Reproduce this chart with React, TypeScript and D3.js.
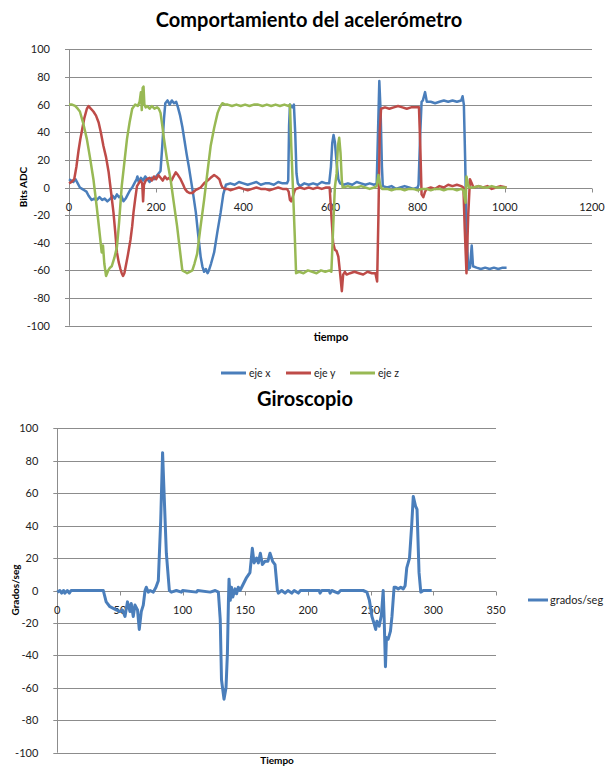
import React, { useEffect, useRef } from 'react';
import * as d3 from 'd3';

// Acelerómetro: [tiempo, bits ADC]
const ejeX: [number, number][] = [
  [0, 6], [5, 5], [10, 4], [15, 6], [20, 3], [25, 0], [30, -1], [35, -2], [40, -3], [45, -6],
  [52, -9], [58, -8], [64, -9], [70, -7], [76, -9], [82, -8], [88, -10], [95, -8], [100, -6],
  [105, -8], [110, -5], [115, -7], [120, -6], [125, -10], [130, -8], [135, -5], [140, -2],
  [145, 0], [150, 3], [155, 6], [157, 8], [160, 4], [165, 7], [170, 5], [175, 8], [180, 6],
  [185, 4], [190, 7], [195, 6], [200, 8], [205, 10], [210, 12], [214, 30], [218, 50], [221, 61],
  [226, 63], [231, 60], [236, 63], [241, 61], [246, 62], [250, 58], [255, 52], [260, 44],
  [265, 34], [270, 24], [275, 15], [280, 5], [285, -5], [291, -18], [296, -33], [302, -50],
  [306, -57], [310, -61], [314, -59], [318, -62], [321, -60], [326, -55], [333, -47], [340, -33],
  [348, -18], [354, -5], [360, 2], [370, 3], [380, 2], [390, 4], [400, 3], [410, 2], [420, 3],
  [430, 4], [440, 2], [450, 3], [460, 3], [470, 2], [480, 4], [490, 3], [500, 3], [503, 5],
  [505, 45], [507, 60], [512, 58], [516, 60], [519, 40], [522, 10], [525, 3], [530, 1], [540, 3],
  [550, 2], [560, 3], [570, 2], [580, 4], [590, 3], [597, 3], [601, 15], [604, 32], [607, 38],
  [610, 33], [614, 18], [618, 6], [622, 3], [630, 2], [640, 3], [650, 2], [660, 4], [670, 3],
  [680, 2], [690, 3], [700, 2], [706, 3], [709, 40], [712, 77], [715, 55], [718, 15], [720, 1],
  [730, 0], [740, 1], [750, -1], [760, 0], [770, 1], [780, 0], [790, -1], [800, 0], [802, 2],
  [806, 40], [809, 62], [812, 63], [817, 69], [821, 62], [830, 62], [840, 61], [850, 62],
  [860, 63], [870, 62], [880, 63], [890, 62], [900, 63], [903, 66], [906, 60], [909, 20],
  [912, -30], [916, -59], [920, -58], [924, -42], [927, -57], [935, -58], [945, -59], [955, -58],
  [965, -59], [975, -58], [985, -59], [995, -58], [1004, -58],
];

const ejeY: [number, number][] = [
  [0, 3], [6, 4], [12, 6], [17, 15], [22, 27], [26, 35], [29, 40], [35, 50], [41, 57], [45, 59],
  [50, 57], [56, 55], [62, 52], [68, 47], [73, 40], [79, 30], [85, 22], [91, 11], [96, -2],
  [102, -18], [106, -32], [110, -47], [114, -54], [118, -59], [121, -62], [124, -64], [127, -62],
  [129, -59], [135, -49], [141, -38], [145, -28], [148, -18], [152, -8], [156, 1], [160, 3],
  [164, 5], [168, 3], [170, -10], [172, 2], [176, 5], [179, 6], [185, 7], [190, 5], [195, 8],
  [200, 6], [205, 9], [210, 7], [215, 5], [220, 8], [225, 6], [230, 7], [235, 5], [240, 8],
  [245, 11], [250, 9], [256, 6], [262, 2], [266, -1], [271, -3], [277, -4], [283, -4], [290, -2],
  [296, -1], [302, 0], [310, 3], [318, 5], [325, 7], [333, 9], [338, 8], [345, 6], [349, 2],
  [352, 0], [358, -1], [364, -1], [370, -2], [380, -1], [390, 0], [400, -1], [410, -2],
  [420, -1], [430, 0], [440, -1], [450, -1], [460, -2], [470, -1], [480, 0], [490, -1],
  [500, -1], [504, -3], [507, -9], [510, -10], [514, -6], [518, -2], [521, -1], [530, 0],
  [540, -1], [550, 0], [560, -1], [570, 0], [580, -1], [590, 0], [598, 0], [602, -20],
  [606, -40], [610, -45], [614, -46], [618, -50], [622, -62], [626, -75], [629, -63], [633, -61],
  [637, -63], [645, -62], [655, -61], [665, -62], [675, -63], [685, -61], [695, -62], [703, -62],
  [707, -68], [710, -20], [713, 40], [716, 57], [725, 58], [735, 57], [745, 58], [755, 59],
  [765, 58], [775, 57], [785, 58], [795, 58], [803, 58], [806, 30], [809, -5], [813, -7],
  [817, -3], [821, -1], [830, 0], [840, -1], [850, 1], [860, 0], [870, 2], [880, 1], [890, 2],
  [900, 1], [905, 0], [908, -30], [912, -62], [916, -20], [920, 6], [924, 3], [928, 0],
  [940, 1], [950, 0], [960, 1], [970, -1], [980, 0], [990, 1], [1004, 0],
];

const ejeZ: [number, number][] = [
  [0, 60], [7, 60], [14, 59], [20, 57], [25, 55], [33, 46], [41, 35], [48, 22], [56, 6],
  [64, -15], [72, -38], [75, -47], [78, -42], [81, -55], [85, -64], [90, -60], [94, -58],
  [98, -57], [104, -51], [110, -43], [115, -25], [121, 1], [127, 18], [133, 35], [139, 47],
  [145, 57], [152, 60], [158, 59], [162, 62], [165, 69], [167, 56], [169, 72], [171, 73],
  [173, 60], [176, 58], [179, 59], [185, 57], [190, 59], [196, 57], [202, 58], [206, 57],
  [210, 54], [214, 45], [218, 35], [225, 20], [233, 6], [240, -10], [248, -28], [254, -44],
  [260, -60], [266, -61], [271, -62], [277, -61], [283, -60], [288, -55], [294, -48], [302, -28],
  [310, -9], [318, 12], [325, 30], [333, 43], [341, 54], [346, 58], [352, 61], [358, 60],
  [364, 60], [374, 59], [384, 60], [394, 59], [404, 60], [414, 59], [424, 60], [434, 60],
  [444, 59], [454, 60], [464, 59], [474, 60], [484, 59], [494, 60], [504, 59], [507, 60],
  [510, 30], [514, -2], [518, -35], [521, -62], [528, -61], [538, -62], [548, -60], [558, -61],
  [568, -62], [578, -60], [588, -61], [598, -60], [602, -61], [606, -30], [610, 0], [614, 10],
  [617, 30], [620, 36], [623, 25], [626, 5], [628, 0], [640, 1], [650, 0], [660, 0], [670, 1],
  [680, 0], [690, -1], [700, 0], [706, 1], [710, 9], [714, 2], [718, -1], [730, -1], [740, -2],
  [750, -1], [760, -1], [770, -2], [780, -1], [790, -1], [800, -2], [810, -1], [820, -1],
  [830, -2], [840, -1], [850, -1], [860, -2], [870, -1], [880, -1], [890, -2], [900, -1],
  [905, -2], [908, -8], [910, -11], [912, 8], [915, 3], [918, 0], [928, 0], [940, 1], [950, 0],
  [960, 0], [970, 1], [980, 0], [990, 0], [1004, 0],
];

// Giroscopio: [tiempo, grados/seg]
const gradosSeg: [number, number][] = [
  [0, -1], [2, 0], [3.5, -1.6], [5, 0], [6, -1.6], [8, 0], [9.6, -1.6], [11, 0], [20, 0],
  [30, 0], [36.7, 0], [39, -7], [42, -10], [44.7, -11], [47, -12], [50, -13], [52, -12],
  [54, -16], [56, -7], [58, -13], [59, -8], [60.6, -16], [62, -9], [64, -12], [65.4, -24],
  [67, -13], [68.6, -9], [70, 0], [71, 2], [72.6, -1], [74, 0], [76.6, -1], [78.7, 2], [80.6, 6],
  [82.5, 43], [84, 85], [85, 64], [87, 23], [89.4, 0], [91, -1], [95, 0], [99, -1], [100, 0],
  [111, -1], [112, 0], [122, -1], [126, 0], [128.5, -1], [130, -18], [131, -55], [133, -67],
  [134.6, -60], [135.7, -39], [136.5, -8], [137, 7], [138, -6], [139, 2], [140, -4], [141.8, 1],
  [143, -2], [144.4, 2], [145.8, 0], [148.4, 4], [151, 8], [153.7, 11], [155.6, 26], [157, 17],
  [159, 20], [160.4, 17], [162, 23], [163.6, 16], [165.7, 18], [168, 18], [169.7, 23],
  [171.8, 18], [173.7, 16], [175.6, 0], [176.4, -1.6], [179, 0], [181.7, -1.6], [184, 0],
  [187, -1.6], [189, 0], [192.3, -1.6], [194, 0], [209, 0], [209.6, -1.6], [211, 0], [217, 0],
  [217.6, -1.6], [219, 0], [224, -1.6], [226, 0], [244, 0], [247, -1], [249, -6], [251, -16],
  [252.6, -20], [254, -24], [255, -19], [256.8, -22], [258.6, -15], [260, 0], [260.8, -18],
  [261.8, -47], [262.6, -29], [264, -30], [265.8, -25], [267, -16], [268.7, 2], [270, 2],
  [272, 1], [274, 2], [276, 1], [277.5, 3], [278.8, 14], [281, 20], [282.8, 41], [284, 58],
  [285.8, 52], [287, 50], [288.6, 11], [290, -1], [292, 0], [294.7, 0], [298.7, 0],
];

const accelXTicks = [0, 200, 400, 600, 800, 1000, 1200];
const accelYTicks = [-100, -80, -60, -40, -20, 0, 20, 40, 60, 80, 100];
const gyroXTicks = [0, 50, 100, 150, 200, 250, 300, 350];
const gyroYTicks = [-100, -80, -60, -40, -20, 0, 20, 40, 60, 80, 100];

const legendAccel = ['eje x', 'eje y', 'eje z'];
const legendGyro = ['grados/seg'];

const BLUE = '#4A7EBB';
const RED = '#BE4B48';
const GREEN = '#98B954';
const GRID = '#8c8c8c';
const FONT = 'Lato, "Open Sans", sans-serif';

type Panel = {
  x: d3.ScaleLinear<number, number>;
  y: d3.ScaleLinear<number, number>;
  xTicks: number[];
  yTicks: number[];
};

// gridlines, axes and tick labels for one Excel style panel
const drawFrame = (svg: any, p: Panel) => {
  const [x0, x1] = p.x.range();
  const [yBottom, yTop] = p.y.range();
  const g = svg.append('g');

  g.selectAll('.grid')
    .data(p.yTicks)
    .enter()
    .append('line')
    .attr('x1', x0 - 4)
    .attr('x2', x1)
    .attr('y1', (d: number) => Math.round(p.y(d)) + 0.5)
    .attr('y2', (d: number) => Math.round(p.y(d)) + 0.5)
    .attr('stroke', GRID)
    .attr('stroke-width', 1);

  g.append('line')
    .attr('x1', Math.round(x0) + 0.5)
    .attr('x2', Math.round(x0) + 0.5)
    .attr('y1', yTop)
    .attr('y2', yBottom)
    .attr('stroke', GRID);

  // x axis sits on the zero line
  const y0 = Math.round(p.y(0)) + 0.5;
  g.selectAll('.xtick')
    .data(p.xTicks)
    .enter()
    .append('line')
    .attr('x1', (d: number) => Math.round(p.x(d)) + 0.5)
    .attr('x2', (d: number) => Math.round(p.x(d)) + 0.5)
    .attr('y1', y0)
    .attr('y2', y0 + 4)
    .attr('stroke', GRID);

  g.selectAll('.ylabel')
    .data(p.yTicks)
    .enter()
    .append('text')
    .attr('x', x0 - 19)
    .attr('y', (d: number) => p.y(d) + 4)
    .attr('text-anchor', 'end')
    .style('font-family', FONT)
    .style('font-size', '11px')
    .style('fill', '#222')
    .text((d: number) => d);

  g.selectAll('.xlabel')
    .data(p.xTicks)
    .enter()
    .append('text')
    .attr('x', (d: number) => p.x(d))
    .attr('y', y0 + 22)
    .attr('text-anchor', 'middle')
    .style('font-family', FONT)
    .style('font-size', '11px')
    .style('fill', '#222')
    .text((d: number) => d);
};

const App = () => {
  const svgRef = useRef<SVGSVGElement>(null);

  useEffect(() => {
    const svg = d3.select(svgRef.current);
    svg.selectAll('*').remove();

    // ---- top chart: acelerómetro ----
    const xa = d3.scaleLinear().domain([0, 1200]).range([69, 592]);
    const ya = d3.scaleLinear().domain([-100, 100]).range([325.7, 49.3]);
    drawFrame(svg, { x: xa, y: ya, xTicks: accelXTicks, yTicks: accelYTicks });

    const lineA = d3
      .line<[number, number]>()
      .x((d) => xa(d[0]))
      .y((d) => ya(d[1]));

    const accelSeries = [
      { data: ejeX, color: BLUE },
      { data: ejeY, color: RED },
      { data: ejeZ, color: GREEN },
    ];
    accelSeries.forEach((s) => {
      svg.append('path')
        .attr('d', lineA(s.data))
        .attr('fill', 'none')
        .attr('stroke', s.color)
        .attr('stroke-width', 2.5)
        .attr('stroke-linejoin', 'round');
    });

    svg.append('text')
      .attr('x', 309)
      .attr('y', 27)
      .attr('text-anchor', 'middle')
      .style('font-family', FONT)
      .style('font-weight', 'bold')
      .style('font-size', '20px')
      .text('Comportamiento del acelerómetro');

    svg.append('text')
      .attr('transform', 'translate(27,187) rotate(-90)')
      .attr('text-anchor', 'middle')
      .style('font-family', FONT)
      .style('font-weight', 'bold')
      .style('font-size', '10px')
      .text('Bits ADC');

    svg.append('text')
      .attr('x', 331)
      .attr('y', 341)
      .attr('text-anchor', 'middle')
      .style('font-family', FONT)
      .style('font-weight', 'bold')
      .style('font-size', '11px')
      .text('tiempo');

    const legendX = [221, 286, 350];
    legendAccel.forEach((name, i) => {
      svg.append('line')
        .attr('x1', legendX[i])
        .attr('x2', legendX[i] + 25)
        .attr('y1', 373)
        .attr('y2', 373)
        .attr('stroke', accelSeries[i].color)
        .attr('stroke-width', 3);
      svg.append('text')
        .attr('x', legendX[i] + 28)
        .attr('y', 377)
        .style('font-family', FONT)
        .style('font-size', '10.5px')
        .style('fill', '#222')
        .text(name);
    });

    // ---- bottom chart: giroscopio ----
    const xg = d3.scaleLinear().domain([0, 350]).range([57.3, 496]);
    const yg = d3.scaleLinear().domain([-100, 100]).range([752.7, 428.3]);
    drawFrame(svg, { x: xg, y: yg, xTicks: gyroXTicks, yTicks: gyroYTicks });

    const lineG = d3
      .line<[number, number]>()
      .x((d) => xg(d[0]))
      .y((d) => yg(d[1]));

    svg.append('path')
      .attr('d', lineG(gradosSeg))
      .attr('fill', 'none')
      .attr('stroke', BLUE)
      .attr('stroke-width', 3)
      .attr('stroke-linejoin', 'round');

    svg.append('text')
      .attr('x', 305)
      .attr('y', 406)
      .attr('text-anchor', 'middle')
      .style('font-family', FONT)
      .style('font-weight', 'bold')
      .style('font-size', '20px')
      .text('Giroscopio');

    svg.append('text')
      .attr('transform', 'translate(19,590) rotate(-90)')
      .attr('text-anchor', 'middle')
      .style('font-family', FONT)
      .style('font-weight', 'bold')
      .style('font-size', '10px')
      .text('Grados/seg');

    svg.append('text')
      .attr('x', 277)
      .attr('y', 764)
      .attr('text-anchor', 'middle')
      .style('font-family', FONT)
      .style('font-weight', 'bold')
      .style('font-size', '10px')
      .text('Tiempo');

    svg.append('line')
      .attr('x1', 528)
      .attr('x2', 548)
      .attr('y1', 600)
      .attr('y2', 600)
      .attr('stroke', BLUE)
      .attr('stroke-width', 3);
    svg.append('text')
      .attr('x', 550)
      .attr('y', 604)
      .style('font-family', FONT)
      .style('font-size', '11px')
      .style('fill', '#222')
      .text(legendGyro[0]);
  }, []);

  return (
    <svg
      ref={svgRef}
      width={605}
      height={767}
      style={{ position: 'absolute', left: 0, top: 0, background: '#fff' }}
    />
  );
};

export default App;
